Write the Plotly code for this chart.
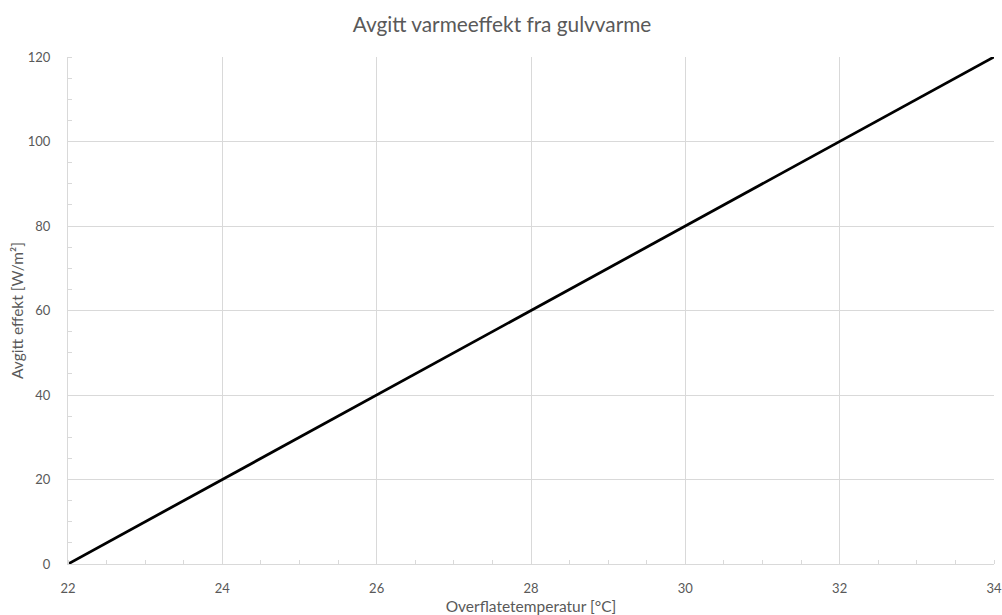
import plotly.graph_objects as go

temperature = [22, 23, 24, 25, 26, 27, 28, 29, 30, 31, 32, 33, 34]
effect = [0, 10, 20, 30, 40, 50, 60, 70, 80, 90, 100, 110, 120]
x_ticks = [22, 24, 26, 28, 30, 32, 34]
y_ticks = [0, 20, 40, 60, 80, 100, 120]

title_text = "Avgitt varmeeffekt fra gulvvarme"
x_title = "Overflatetemperatur [°C]"
y_title = "Avgitt effekt [W/m²]"

FONT = "Lato"
GRID = "#d9d9d9"
TXT = "#595959"

fig = go.Figure()
fig.add_trace(go.Scatter(x=temperature, y=effect, mode="lines",
                         line=dict(color="#000000", width=2.8),
                         showlegend=False, hoverinfo="skip"))

axis_common = dict(showgrid=True, gridcolor=GRID, gridwidth=1,
                   showline=True, linecolor=GRID, linewidth=1,
                   zeroline=False, ticks="", mirror=False, automargin=False,
                   ticklabeloverflow="allow",
                   tickfont=dict(family=FONT, size=13, color=TXT))

fig.update_xaxes(range=[22, 34], tickvals=x_ticks, ticktext=[str(v) for v in x_ticks],
                 ticklabelstandoff=12,
                 title=dict(text=x_title, font=dict(family=FONT, size=15.5, color=TXT), standoff=8),
                 minor=dict(dtick=0.5, tick0=22, ticks="inside", ticklen=4, tickcolor=GRID, showgrid=False),
                 **axis_common)
fig.update_yaxes(range=[0, 120], tickvals=y_ticks, ticktext=[str(v) for v in y_ticks],
                 ticklabelstandoff=14,
                 title=dict(text=y_title, font=dict(family=FONT, size=15.5, color=TXT), standoff=0),
                 minor=dict(dtick=5, tick0=0, ticks="inside", ticklen=4, tickcolor=GRID, showgrid=False),
                 **axis_common)

fig.update_layout(
    width=1002, height=615,
    paper_bgcolor="white", plot_bgcolor="white",
    margin=dict(l=68, r=8, t=57, b=51),
    title=dict(text=title_text, xref="container", x=0.501, xanchor="center",
               yref="container", y=0.959, yanchor="middle",
               font=dict(family=FONT, size=20.8, color=TXT)),
)

fig.write_html("out.html", config={"displayModeBar": False},
               post_script="document.body.style.margin='0';document.body.style.overflow='hidden';")
